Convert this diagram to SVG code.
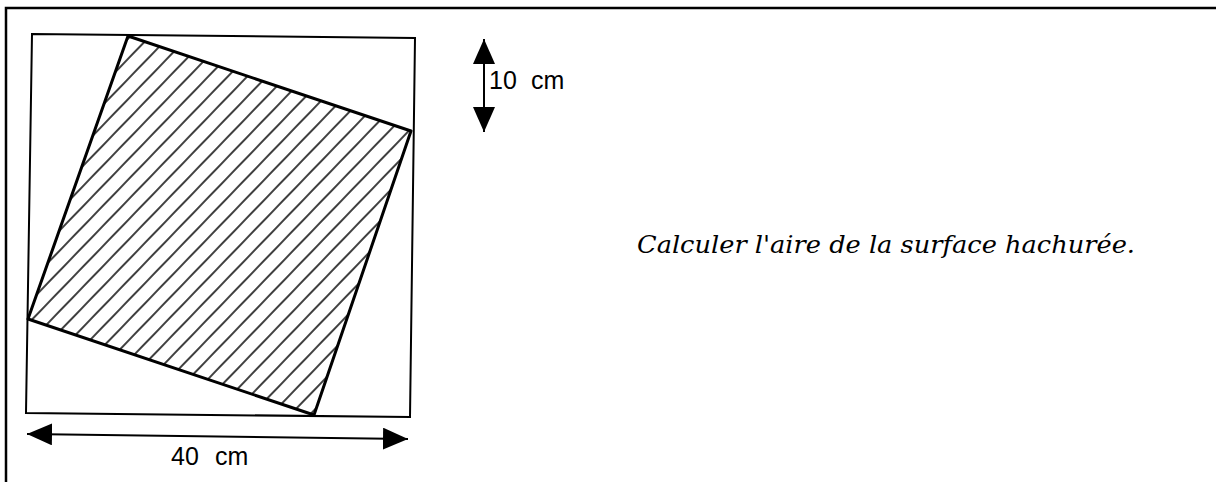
<svg xmlns="http://www.w3.org/2000/svg" width="1216" height="482" viewBox="0 0 1216 482">
<style>
.frame{fill:none;stroke:#000;stroke-width:2.5}
.box{fill:none;stroke:#000;stroke-width:2}
.tilt{fill:url(#hatch);stroke:#000;stroke-width:3;stroke-linejoin:round}
.dim{stroke:#000;stroke-width:2;fill:none}
.lbl{font-family:"Liberation Sans",Arial,sans-serif;font-size:25px;fill:#000}
.q{font-family:"DejaVu Serif","Liberation Serif",serif;font-style:italic;font-size:25px;fill:#000}
</style>
<defs>
<pattern id="hatch" patternUnits="userSpaceOnUse" width="14" height="10" patternTransform="rotate(44)">
<rect width="14" height="10" fill="#fff"/>
<line x1="7" y1="-1" x2="7" y2="11" stroke="#000" stroke-width="1.5"/>
</pattern>
<marker id="ah" viewBox="0 0 25 22" refX="25" refY="11" markerWidth="25" markerHeight="22" markerUnits="userSpaceOnUse" orient="auto-start-reverse">
<path d="M0,0 L25,11 L0,22 Z" fill="#000"/>
</marker>
</defs>
<rect width="1216" height="482" fill="#fff"/>
<g id="frame">
<path class="frame" d="M1216,8 L6,8 L6,482"/>
</g>
<g id="outer-square">
<path class="box" d="M32,34 L415,38 L410,417 L26,413 Z"/>
</g>
<g id="hatched-square">
<polygon class="tilt" points="128,36 411,131 314,415 28,319"/>
</g>
<g id="connectors">
<line class="dim" x1="484" y1="39" x2="484" y2="132" marker-start="url(#ah)" marker-end="url(#ah)"/>
<line class="dim" x1="27" y1="434" x2="408" y2="439" marker-start="url(#ah)" marker-end="url(#ah)"/>
</g>
<g id="label-10cm">
<text class="lbl" y="89"><tspan x="489">10</tspan><tspan x="531">cm</tspan></text>
</g>
<g id="label-40cm">
<text class="lbl" y="465"><tspan x="171">40</tspan><tspan x="215">cm</tspan></text>
</g>
<g id="question">
<text class="q" x="637" y="253" textLength="498" lengthAdjust="spacingAndGlyphs">Calculer l'aire de la surface hachurée.</text>
</g>
</svg>
